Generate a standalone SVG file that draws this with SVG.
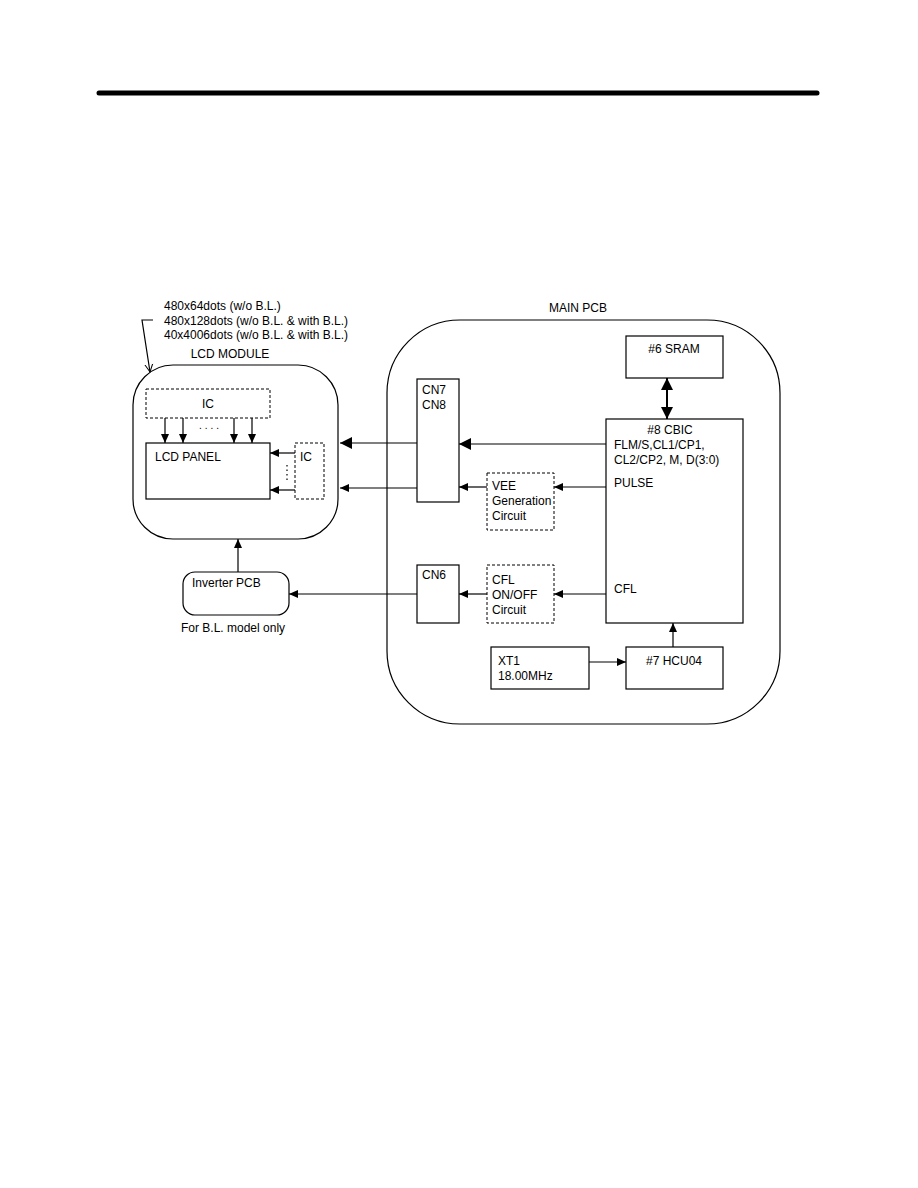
<svg xmlns="http://www.w3.org/2000/svg" width="918" height="1188" viewBox="0 0 918 1188">
<style>
text{font-family:"Liberation Sans",Arial,sans-serif;font-size:12px;fill:#000}
.b{fill:#fff;stroke:#000;stroke-width:1.2}
.d{fill:#fff;stroke:#000;stroke-width:1;stroke-dasharray:3,2}
.c{fill:none;stroke:#000;stroke-width:1.2}
.m{text-anchor:middle}
</style>
<defs>
<marker id="big" markerUnits="userSpaceOnUse" markerWidth="14" markerHeight="14" refX="12" refY="7" orient="auto"><path d="M0,1 L12,7 L0,13 Z" fill="#000"/></marker>
<marker id="sm" markerUnits="userSpaceOnUse" markerWidth="10" markerHeight="10" refX="9" refY="5" orient="auto"><path d="M0,1 L9,5 L0,9 Z" fill="#000"/></marker>
<marker id="open" markerUnits="userSpaceOnUse" markerWidth="10" markerHeight="10" refX="8" refY="5" orient="auto"><path d="M0,1 L8,5 L0,9" fill="none" stroke="#000" stroke-width="1"/></marker>
<marker id="bigs" markerUnits="userSpaceOnUse" markerWidth="14" markerHeight="14" refX="12" refY="7" orient="auto-start-reverse"><path d="M0,1 L12,7 L0,13 Z" fill="#000"/></marker>
</defs>
<line x1="99" y1="93" x2="817" y2="93" stroke="#000" stroke-width="5" stroke-linecap="round"/>

<g id="lcd-module">
<rect class="b" x="133" y="365" width="205" height="174" rx="40"/>
<text class="m" x="230" y="358">LCD MODULE</text>
<text x="164" y="310">480x64dots (w/o B.L.)</text>
<text x="164" y="325">480x128dots (w/o B.L. &amp; with B.L.)</text>
<text x="164" y="339">40x4006dots (w/o B.L. &amp; with B.L.)</text>
</g>
<g id="ic-top"><rect class="d" x="146" y="389" width="124" height="29"/><text class="m" x="208" y="408">IC</text></g>
<g id="lcd-panel"><rect class="b" x="146" y="443" width="124" height="56"/><text x="155" y="461">LCD PANEL</text></g>
<g id="ic-side"><rect class="d" x="295" y="443" width="29" height="56"/><text x="300" y="461">IC</text></g>
<g id="inverter"><rect class="b" x="183" y="572" width="106" height="43" rx="12"/><text x="192" y="587">Inverter PCB</text><text x="181" y="632">For B.L. model only</text></g>

<g id="main-pcb">
<rect class="b" x="387" y="320" width="393" height="404" rx="73"/>
<text class="m" x="578" y="312">MAIN PCB</text>
</g>
<g id="sram"><rect class="b" x="626" y="336" width="97" height="42"/><text class="m" x="674" y="353">#6 SRAM</text></g>
<g id="cn78"><rect class="b" x="417" y="379" width="42" height="123"/><text x="422" y="394">CN7</text><text x="422" y="409">CN8</text></g>
<g id="cbic"><rect class="b" x="606" y="419" width="137" height="204"/>
<text class="m" x="670" y="434">#8 CBIC</text>
<text x="614" y="449">FLM/S,CL1/CP1,</text>
<text x="614" y="464">CL2/CP2, M, D(3:0)</text>
<text x="614" y="487">PULSE</text>
<text x="614" y="593">CFL</text></g>
<g id="vee"><rect class="d" x="487" y="473" width="67" height="57"/><text x="492" y="490">VEE</text><text x="492" y="505">Generation</text><text x="492" y="520">Circuit</text></g>
<g id="cn6"><rect class="b" x="417" y="565" width="42" height="58"/><text x="422" y="579">CN6</text></g>
<g id="cfl"><rect class="d" x="487" y="565" width="67" height="58"/><text x="492" y="584">CFL</text><text x="492" y="599">ON/OFF</text><text x="492" y="614">Circuit</text></g>
<g id="xt1"><rect class="b" x="491" y="647" width="98" height="42"/><text x="498" y="665">XT1</text><text x="498" y="680">18.00MHz</text></g>
<g id="hcu04"><rect class="b" x="626" y="647" width="97" height="42"/><text class="m" x="674" y="665">#7 HCU04</text></g>

<g id="connectors">
<path class="c" d="M153,320 L142,320 L150,372" marker-end="url(#open)"/>
<line class="c" x1="165" y1="418" x2="165" y2="443" marker-end="url(#sm)"/>
<line class="c" x1="183" y1="418" x2="183" y2="443" marker-end="url(#sm)"/>
<line class="c" x1="234" y1="418" x2="234" y2="443" marker-end="url(#sm)"/>
<line class="c" x1="252" y1="418" x2="252" y2="443" marker-end="url(#sm)"/>
<text x="199" y="429" style="font-size:10px;letter-spacing:3px">....</text>
<line class="c" x1="295" y1="453" x2="270" y2="453" marker-end="url(#sm)"/>
<line class="c" x1="295" y1="490" x2="270" y2="490" marker-end="url(#sm)"/>
<line x1="287" y1="465" x2="287" y2="480" stroke="#000" stroke-width="1.2" stroke-dasharray="1.5,3"/>
<line class="c" x1="417" y1="443" x2="340" y2="443" marker-end="url(#big)"/>
<line class="c" x1="417" y1="488" x2="340" y2="488" marker-end="url(#sm)"/>
<line class="c" x1="606" y1="444" x2="459" y2="444" marker-end="url(#big)"/>
<line class="c" x1="606" y1="487" x2="554" y2="487" marker-end="url(#sm)"/>
<line class="c" x1="487" y1="487" x2="459" y2="487" marker-end="url(#sm)"/>
<line class="c" x1="606" y1="594" x2="554" y2="594" marker-end="url(#sm)"/>
<line class="c" x1="487" y1="594" x2="459" y2="594" marker-end="url(#sm)"/>
<line class="c" x1="417" y1="594" x2="289" y2="594" marker-end="url(#sm)"/>
<line class="c" x1="238" y1="572" x2="238" y2="539" marker-end="url(#sm)"/>
<line x1="667" y1="378" x2="667" y2="419" stroke="#000" stroke-width="2" marker-start="url(#bigs)" marker-end="url(#bigs)"/>
<line class="c" x1="589" y1="662" x2="626" y2="662" marker-end="url(#sm)"/>
<line class="c" x1="673" y1="647" x2="673" y2="623" marker-end="url(#sm)"/>
</g>
</svg>
